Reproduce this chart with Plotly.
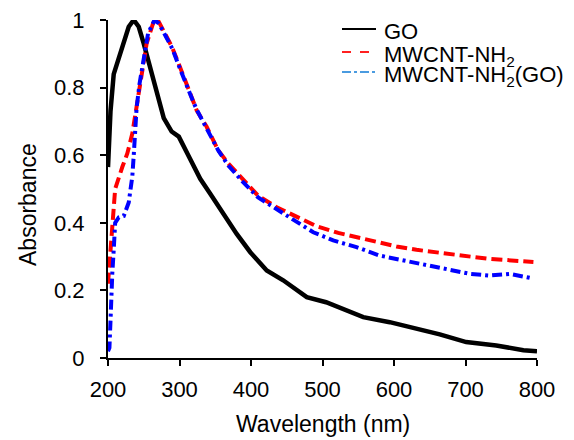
import plotly.graph_objects as go

# ---- data ----
go_wl = [200, 203.5, 208, 215, 222, 229, 236, 243, 250, 259, 268, 278, 289, 299, 311,
         329, 343, 361, 380, 399, 422, 445, 464, 478, 505, 529, 557, 594, 631, 664,
         701, 743, 781, 800]
go_abs = [0.565, 0.73, 0.84, 0.89, 0.94, 0.98, 1.0, 0.98, 0.93, 0.86, 0.78, 0.71, 0.67,
          0.655, 0.605, 0.53, 0.486, 0.427, 0.367, 0.313, 0.259, 0.23, 0.2, 0.18, 0.165,
          0.146, 0.121, 0.106, 0.087, 0.07, 0.047, 0.037, 0.023, 0.02]

nh2_wl = [200, 203, 206, 210, 220, 227, 234, 240, 248, 254, 263, 266, 271, 280, 289.5,
          299, 308, 317, 324, 338, 354, 368, 389, 410, 436, 464, 491.5, 522, 547.5,
          578, 603.5, 631.5, 664, 692, 729.5, 776, 795]
nh2_abs = [0.22, 0.3, 0.4, 0.5, 0.565, 0.605, 0.664, 0.74, 0.85, 0.93, 0.99, 1.0, 0.995,
           0.956, 0.92, 0.87, 0.822, 0.773, 0.733, 0.684, 0.615, 0.576, 0.526, 0.48,
           0.446, 0.417, 0.39, 0.37, 0.357, 0.342, 0.33, 0.32, 0.311, 0.306, 0.294,
           0.287, 0.284]

nh2go_wl = [200, 202, 203.5, 204.5, 206, 208, 210, 215, 222, 229, 234, 236, 240, 244,
            249, 256, 265, 271, 280, 290, 299, 308, 317, 324, 338, 354, 368, 389, 410,
            436, 459, 487, 515, 547.5, 580, 622, 664, 706, 734, 762, 795]
nh2go_abs = [0.02, 0.03, 0.11, 0.18, 0.25, 0.32, 0.4, 0.416, 0.42, 0.46, 0.537, 0.6,
             0.74, 0.81, 0.875, 0.96, 1.0, 0.99, 0.955, 0.915, 0.865, 0.815, 0.77,
             0.735, 0.68, 0.615, 0.57, 0.52, 0.475, 0.44, 0.407, 0.372, 0.348, 0.328,
             0.303, 0.284, 0.267, 0.249, 0.244, 0.249, 0.235]

series_names = ["GO", "MWCNT-NH<sub>2</sub>", "MWCNT-NH<sub>2</sub>(GO)"]
x_ticks = [200, 300, 400, 500, 600, 700, 800]
y_ticks = [0, 0.2, 0.4, 0.6, 0.8, 1]
y_ticklabels = ["0", "0.2", "0.4", "0.6", "0.8", "1"]

FONT = "Liberation Sans, Arial, sans-serif"
OFF = 8                      # page body margin
W, H = 574 - OFF, 440 - OFF  # figure size so it fills the window
# plot area in window pixels: left 108, right 537, top 20, bottom 358
ML, MT = 108 - OFF, 20 - OFF
PW, PH = 429, 338
MR = W - ML - PW
MB = H - MT - PH


def px2x(px):
    return (px - OFF - ML) / PW


def px2y(py):
    return (MT + PH - (py - OFF)) / PH


fig = go.Figure()
fig.add_trace(go.Scatter(x=go_wl, y=go_abs, mode="lines", name=series_names[0],
                         line=dict(color="black", width=4.5), showlegend=False))
fig.add_trace(go.Scatter(x=nh2_wl, y=nh2_abs, mode="lines", name=series_names[1],
                         line=dict(color="#FF0000", width=4, dash="11px,5px"),
                         showlegend=False))
fig.add_trace(go.Scatter(x=nh2go_wl, y=nh2go_abs, mode="lines", name=series_names[2],
                         line=dict(color="#0000FF", width=4, dash="10px,4px,3px,4px"),
                         showlegend=False))

# manual legend (compact spacing as in the reference)
leg_lines = [dict(color="black", dash="solid", y=29),
             dict(color="#FF2020", dash="dash", y=52),
             dict(color="#4A9BE0", dash="dashdot", y=72)]
leg_text_y = [32, 55.5, 76]
for i, (ll, ty) in enumerate(zip(leg_lines, leg_text_y)):
    fig.add_shape(type="line", xref="paper", yref="paper",
                  x0=px2x(342), x1=px2x(376), y0=px2y(ll["y"]), y1=px2y(ll["y"]),
                  line=dict(color=ll["color"], width=2, dash=ll["dash"]))
    fig.add_annotation(xref="paper", yref="paper", x=px2x(382), y=px2y(ty),
                       xanchor="left", yanchor="middle", showarrow=False,
                       text=series_names[i], font=dict(family=FONT, size=22, color="black"))

# axis titles
fig.add_annotation(xref="paper", yref="paper", x=px2x(323), y=px2y(424),
                   xanchor="center", yanchor="middle", showarrow=False,
                   text="Wavelength (nm)", font=dict(family=FONT, size=23, color="black"))
fig.add_annotation(xref="paper", yref="paper", x=px2x(28), y=px2y(205),
                   xanchor="center", yanchor="middle", showarrow=False, textangle=-90,
                   text="Absorbance", font=dict(family=FONT, size=23, color="black"))

fig.update_layout(
    width=W, height=H,
    margin=dict(l=ML, r=MR, t=MT, b=MB, autoexpand=False),
    paper_bgcolor="white", plot_bgcolor="white",
    font=dict(family=FONT, size=22, color="black"),
    showlegend=False,
)
fig.update_xaxes(range=[200, 800], tickvals=x_ticks, ticks="outside", ticklen=6,
                 tickwidth=1.5, tickcolor="black", showline=True, linecolor="black",
                 linewidth=2, showgrid=False, zeroline=False, automargin=False,
                 ticklabeloverflow="allow",
                 tickfont=dict(family=FONT, size=22, color="black"), ticklabelstandoff=5)
fig.update_yaxes(range=[0, 1], tickvals=y_ticks, ticktext=y_ticklabels, ticks="outside",
                 ticklen=6, tickwidth=1.5, tickcolor="black", showline=True,
                 linecolor="black", linewidth=2, showgrid=False, zeroline=False,
                 automargin=False, ticklabeloverflow="allow",
                 tickfont=dict(family=FONT, size=22, color="black"), ticklabelstandoff=11)

fig.write_html("out.html")
